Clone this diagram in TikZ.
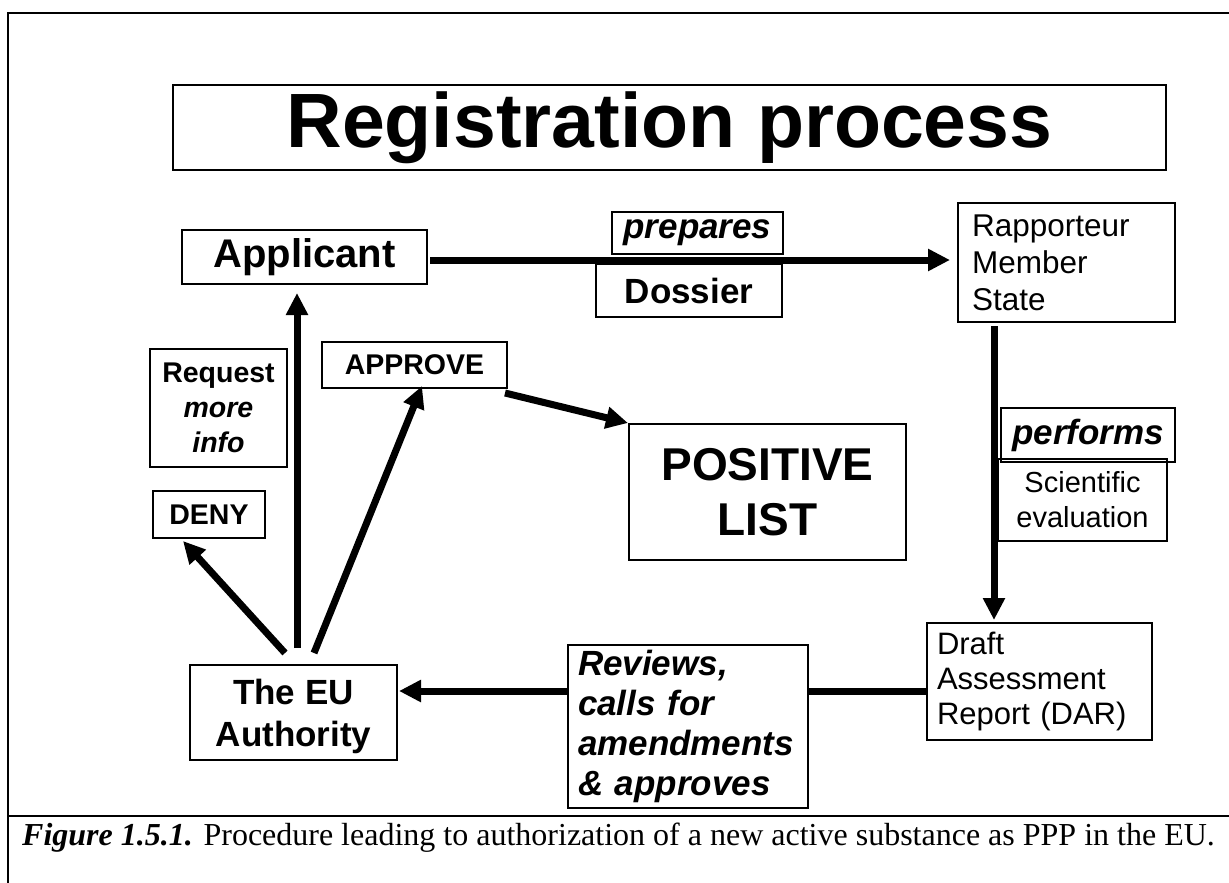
\documentclass[tikz,border=0pt]{standalone}
\usepackage{fontspec}
\setmainfont{Liberation Sans}
\newfontfamily\capfont{Liberation Serif}
\usetikzlibrary{arrows.meta}
\begin{document}
\begin{tikzpicture}[x=1pt,y=-1pt,
  bx/.style={draw=black, line width=1.3pt, fill=white, inner sep=0pt, outer sep=0pt, anchor=north west, align=center},
  arr/.style={line width=7pt, -{Triangle[length=22pt,width=21pt]}},
  frameline/.style={line width=2.5pt}]
\useasboundingbox (0,0) rectangle (1229,883);
% frame
\draw[frameline] (8,883) -- (8,13) -- (1229,13);
\draw[frameline] (8,816) -- (1229,816);
% nodes
\node[bx, line width=1.6pt, minimum width=993pt, minimum height=85pt, font=\bfseries\fontsize{77}{90}\selectfont] (title) at (173,85) {Registration process};
\node[bx, minimum width=245pt, minimum height=54pt, font=\bfseries\fontsize{40}{46}\selectfont] (app) at (182,230) {Applicant};
\node[bx, minimum width=171pt, minimum height=42pt, font=\bfseries\itshape\fontsize{35}{40}\selectfont] (prep) at (612,212) {prepares};
\node[bx, minimum width=186pt, minimum height=53pt, font=\bfseries\fontsize{35}{40}\selectfont] (dos) at (596,264) {Dossier};
\node[bx, line width=2.6pt, text width=189pt, inner xsep=14pt, minimum height=119pt, align=left, font=\fontsize{31.5}{37}\selectfont] (rms) at (958,203) {Rapporteur\\Member\\State};
\node[bx, fill=none, minimum width=174pt, minimum height=54pt, font=\bfseries\itshape\fontsize{35}{40}\selectfont] (perf) at (1001,408) {performs};
\node[bx, fill=none, minimum width=169pt, minimum height=82pt, font=\fontsize{29}{35}\selectfont] (sci) at (998,459) {Scientific\\evaluation};
\node[bx, text width=205pt, inner xsep=10pt, minimum height=117pt, align=left, font=\fontsize{31}{35}\selectfont] (dar) at (927,623) {Draft\\Assessment\\Report (DAR)};
\node[bx, minimum width=207pt, minimum height=95pt, text depth=0pt, font=\bfseries\fontsize{35}{42}\selectfont] (eu) at (190,665) {The EU\\Authority};
\node[bx, minimum width=137pt, minimum height=118pt, font=\bfseries\fontsize{28.5}{35}\selectfont] (req) at (150,349) {Request\\\textit{more}\\\textit{info}};
\node[bx, minimum width=185pt, minimum height=46pt, font=\bfseries\fontsize{28.5}{34}\selectfont] (apv) at (322,342) {APPROVE};
\node[bx, minimum width=112pt, minimum height=47pt, font=\bfseries\fontsize{28.5}{34}\selectfont] (deny) at (153,491) {DENY};
\node[bx, line width=2.4pt, minimum width=277pt, minimum height=136pt, font=\bfseries\fontsize{46}{55}\selectfont] (pos) at (629,424) {POSITIVE\\LIST};
% arrows
\coordinate (a1) at ([yshift=-3pt]app.east);
\draw[arr, shorten <=3pt, shorten >=8pt] (a1) -- (a1 -| rms.west);
\coordinate (ax) at (994,0);
\draw[arr, shorten <=4pt, shorten >=3pt] (rms.south -| ax) -- (dar.north -| ax);
\coordinate (ay) at (0,691);
\draw[arr, shorten >=2pt] (dar.west |- ay) -- (eu.east |- ay);
\coordinate (eu1) at ([xshift=3.5pt]eu.north);
\draw[arr, shorten <=17pt, shorten >=9pt] (eu1) -- (eu1 |- app.south);
\draw[arr] ([xshift=20.5pt,yshift=12pt]eu.north) -- ([xshift=7.5pt,yshift=2pt]apv.south);
\draw[arr] ([xshift=-8.5pt,yshift=12pt]eu.north) -- ([xshift=-26pt,yshift=-3pt]deny.south);
\draw[arr] ([xshift=-2pt,yshift=-5pt]apv.south east) -- ([xshift=-1pt,yshift=1pt]pos.north west);
% reviews box on top of arrow
\node[bx, text width=220pt, inner xsep=10pt, minimum height=163pt, align=left, font=\bfseries\itshape\fontsize{35}{40}\selectfont] (rev) at (568,645) {Reviews,\\calls for\\amendments\\\& approves};
% caption
\node[anchor=base west, inner sep=0pt, font=\capfont\fontsize{32}{38}\selectfont] (cap) at (22,845) {\textbf{\textit{Figure 1.5.1.}} Procedure leading to authorization of a new active substance as PPP in the EU.};
\end{tikzpicture}
\end{document}
